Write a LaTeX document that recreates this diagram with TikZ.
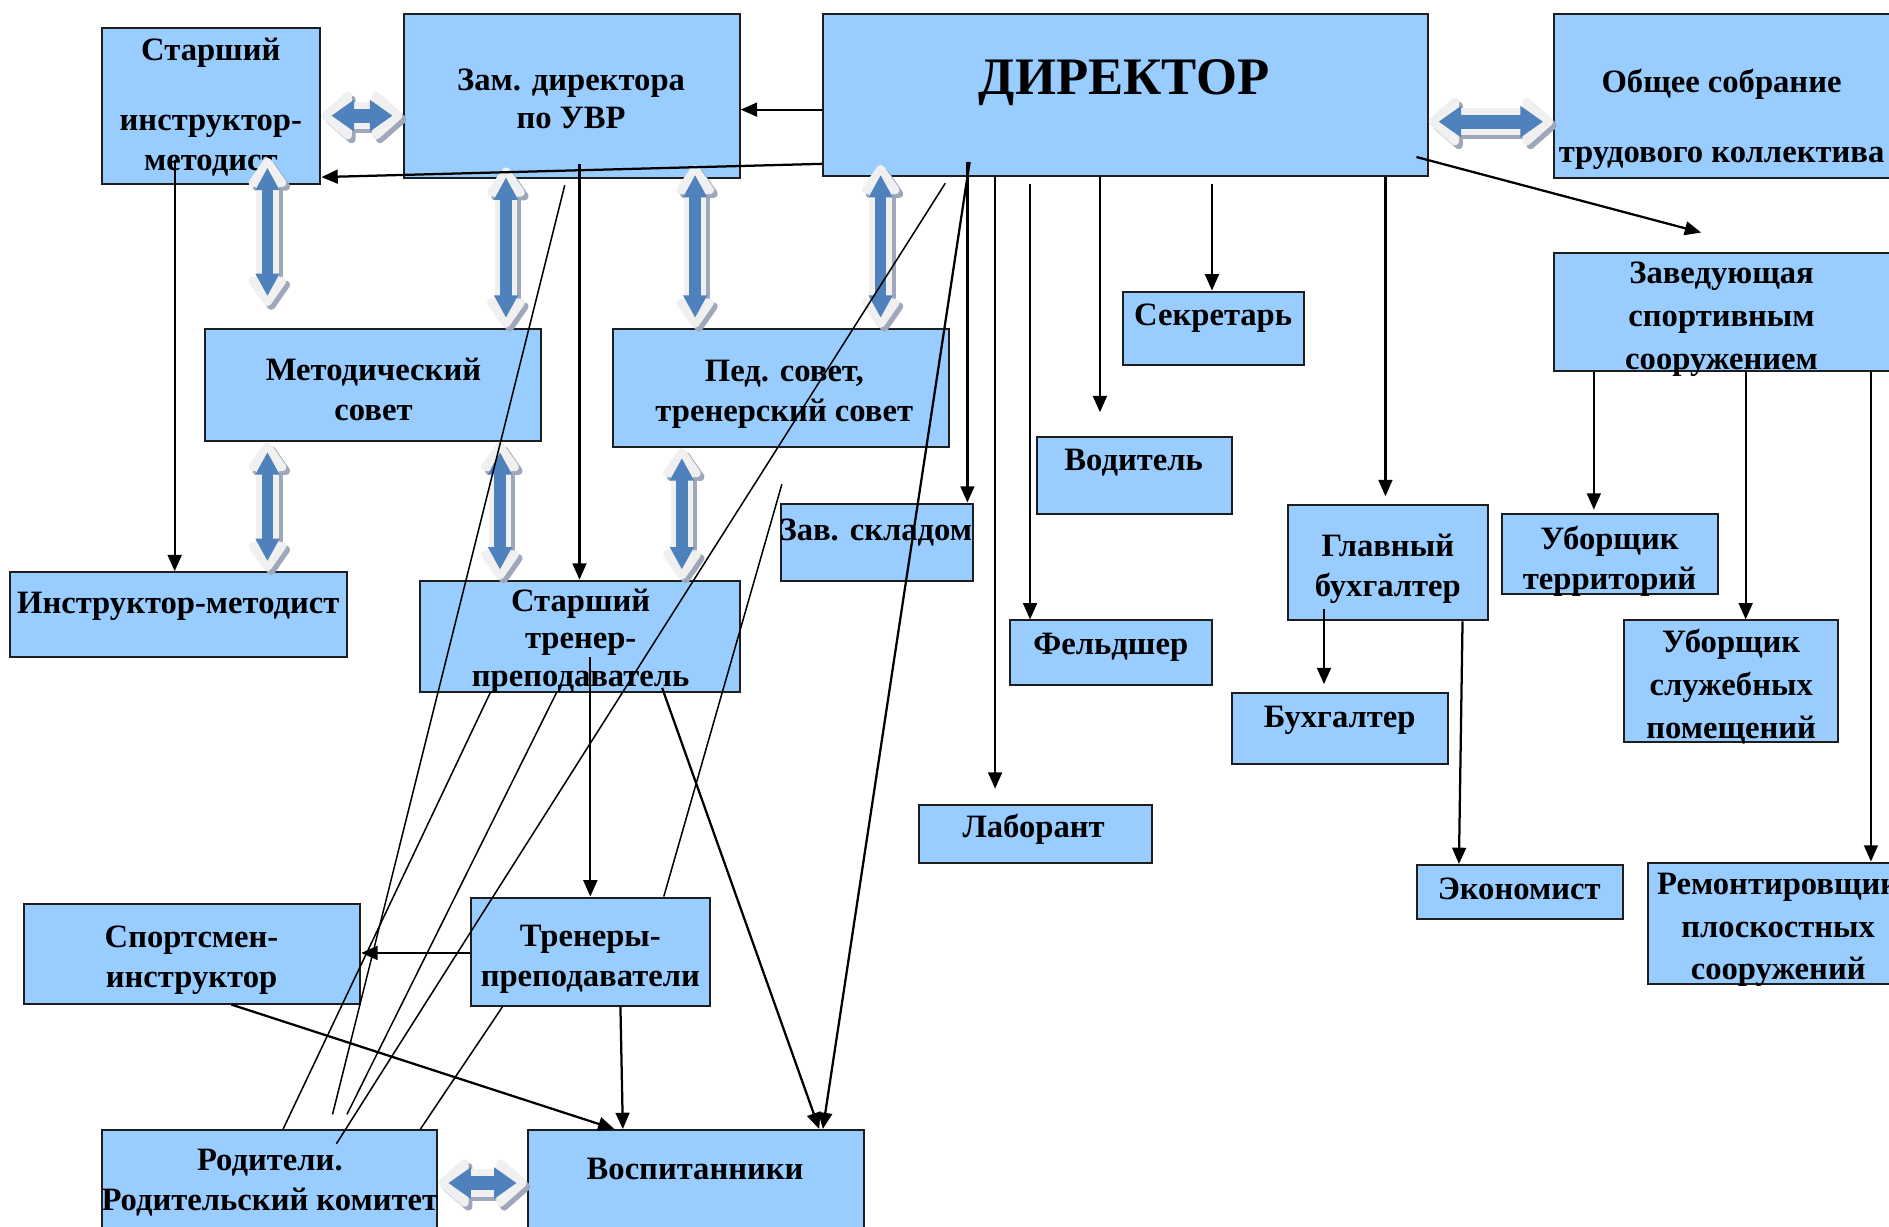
\documentclass[tikz,border=0pt]{standalone}
\usepackage{fontspec}
\setmainfont{Liberation Serif}
\usetikzlibrary{arrows.meta,fit,calc}

\definecolor{boxblue}{RGB}{153,204,255}
\definecolor{arrblue}{RGB}{79,129,189}
\definecolor{arrgrey}{RGB}{240,240,240}
\definecolor{arrshade}{RGB}{158,168,186}

\tikzset{every picture/.style={line width=0.75pt}}
\tikzset{
  box/.style={draw={rgb, 255:red, 30; green, 30; blue, 30 }, fill=boxblue, line width=0.8pt, inner sep=0pt},
  lbl/.style={font=\fontsize{13}{16}\selectfont\bfseries, align=center, inner sep=0pt},
  arr/.style={line width=0.9pt, -{Triangle[length=6.5pt,width=5.5pt]}},
  lnk/.style={line width=0.6pt},
  % vertical block arrows
  vshade/.style={arrshade, line width=9pt, {Triangle[length=13pt,width=17pt,round]}-{Triangle[length=13pt,width=17pt,round]}},
  vouter/.style={arrgrey, line width=9pt, {Triangle[length=13pt,width=17pt,round]}-{Triangle[length=13pt,width=17pt,round]}},
  vinner/.style={arrblue, line width=4.5pt, shorten <=4pt, shorten >=4pt, {Triangle[length=9pt,width=9pt]}-{Triangle[length=9pt,width=9pt]}},
  % horizontal block arrows
  hshade/.style={arrshade, line width=11pt, {Triangle[length=13pt,width=22pt,round]}-{Triangle[length=13pt,width=22pt,round]}},
  houter/.style={arrgrey, line width=11pt, {Triangle[length=13pt,width=22pt,round]}-{Triangle[length=13pt,width=22pt,round]}},
  hinner/.style={arrblue, line width=5.5pt, shorten <=4pt, shorten >=4pt, {Triangle[length=9pt,width=12pt]}-{Triangle[length=9pt,width=12pt]}}
}
% two-headed block arrow: shadow, light body, blue core
\newcommand{\dblarr}[3]{%
  \draw[#1shade, transform canvas={xshift=1.5pt,yshift=-1.5pt}] #2 -- #3;
  \draw[#1outer] #2 -- #3;
  \draw[#1inner] #2 -- #3;}

\begin{document}
\begin{tikzpicture}[x=0.48pt,y=0.48pt,yscale=-1,xscale=1]
\useasboundingbox (0,0) rectangle (1568,1018); %picture is 1568 x 1018

%Shape: Rectangle [id:dir]
\node [box, fit={(683,12) (1185,146)}] (dir) {};
%Shape: Rectangle [id:zam]
\node [box, fit={(335,12) (614,148)}] (zam) {};
%Shape: Rectangle [id:sim]
\node [box, fit={(85,23) (266,153)}] (sim) {};
%Shape: Rectangle [id:obs]
\node [box, fit={(1290,12) (1572,148)}] (obs) {};
%Shape: Rectangle [id:zav]
\node [box, fit={(1290,210) (1572,308)}] (zav) {};
%Shape: Rectangle [id:met]
\node [box, fit={(170,273) (449,366)}] (met) {};
%Shape: Rectangle [id:ped]
\node [box, fit={(509,273) (788,371)}] (ped) {};
%Shape: Rectangle [id:sek]
\node [box, fit={(932,242) (1082,303)}] (sek) {};
%Shape: Rectangle [id:vod]
\node [box, fit={(861,363) (1023,427)}] (vod) {};
%Shape: Rectangle [id:skl]
\node [box, fit={(648,418) (808,482)}] (skl) {};
%Shape: Rectangle [id:inm]
\node [box, fit={(8,475) (288,545)}] (inm) {};
%Shape: Rectangle [id:stt]
\node [box, fit={(349,482) (614,574)}] (stt) {};
%Shape: Rectangle [id:fel]
\node [box, fit={(838,515) (1006,569)}] (fel) {};
%Shape: Rectangle [id:glb]
\node [box, fit={(1069,419) (1235,515)}] (glb) {};
%Shape: Rectangle [id:buh]
\node [box, fit={(1023,575) (1202,634)}] (buh) {};
%Shape: Rectangle [id:ubt]
\node [box, fit={(1247,427) (1426,493)}] (ubt) {};
%Shape: Rectangle [id:ubs]
\node [box, fit={(1348,515) (1526,616)}] (ubs) {};
%Shape: Rectangle [id:lab]
\node [box, fit={(763,668) (956,716)}] (lab) {};
%Shape: Rectangle [id:eko]
\node [box, fit={(1176,718) (1347,763)}] (eko) {};
%Shape: Rectangle [id:rem]
\node [box, fit={(1368,716) (1582,817)}] (rem) {};
%Shape: Rectangle [id:spo]
\node [box, fit={(20,750) (299,833)}] (spo) {};
%Shape: Rectangle [id:tre]
\node [box, fit={(391,745) (589,835)}] (tre) {};
%Shape: Rectangle [id:rod]
\node [box, fit={(85,938) (363,1030)}] (rod) {};
%Shape: Rectangle [id:vos]
\node [box, fit={(438,938) (717,1030)}] (vos) {};

% Text Node
\draw (933,69) node [lbl, font=\fontsize{21}{25}\selectfont\bfseries] (dirt) {ДИРЕКТОР};
% Text Node
\draw (474,82) node [lbl, font=\fontsize{13}{15}\selectfont\bfseries] (zamt) {Зам. директора\\по УВР};
% Text Node
\draw (175,89) node [lbl] (simt) {Старший\\[12pt]инструктор-\\методист};
% Text Node
\draw (1429,99) node [lbl] (obst) {Общее собрание\\[12pt]трудового коллектива};
% Text Node
\draw (1429,265) node [lbl, font=\fontsize{13}{17}\selectfont\bfseries] (zavt) {Заведующая\\спортивным\\сооружением};
% Text Node
\draw (310,323) node [lbl] (mett) {Методический\\совет};
% Text Node
\draw (651,327) node [lbl] (pedt) {Пед. совет,\\тренерский совет};
% Text Node
\draw (1007,264) node [lbl] (sekt) {Секретарь};
% Text Node
\draw (941,384) node [lbl] (vodt) {Водитель};
% Text Node
\draw (727,442) node [lbl] (sklt) {Зав. складом};
% Text Node
\draw (148,503) node [lbl] (inmt) {Инструктор-методист};
% Text Node
\draw (482,532) node [lbl, font=\fontsize{13}{15}\selectfont\bfseries] (sttt) {Старший\\тренер-\\преподаватель};
% Text Node
\draw (922,537) node [lbl] (felt) {Фельдшер};
% Text Node
\draw (1152,472) node [lbl] (glbt) {Главный\\бухгалтер};
% Text Node
\draw (1112,598) node [lbl] (buht) {Бухгалтер};
% Text Node
\draw (1336,466) node [lbl] (ubtt) {Уборщик\\территорий};
% Text Node
\draw (1437,570) node [lbl, font=\fontsize{13}{17}\selectfont\bfseries] (ubst) {Уборщик\\служебных\\помещений};
% Text Node
\draw (858,688) node [lbl] (labt) {Лаборант};
% Text Node
\draw (1261,738) node [lbl] (ekot) {Экономист};
% Text Node
\draw (1476,772) node [lbl, font=\fontsize{13}{17}\selectfont\bfseries] (remt) {Ремонтировщик\\плоскостных\\сооружений};
% Text Node
\draw (159,797) node [lbl] (spot) {Спортсмен-\\инструктор};
% Text Node
\draw (490,796) node [lbl] (tret) {Тренеры-\\преподаватели};
% Text Node
\draw (224,982) node [lbl] (rodt) {Родители.\\Родительский комитет};
% Text Node
\draw (577,970) node [lbl] (vost) {Воспитанники};

%Block Arrows
\dblarr{h}{(sim.east |- 0,96)}{(zam.west |- 0,96)}
\dblarr{h}{(dir.east |- 0,101)}{(obs.west |- 0,101)}
\dblarr{h}{(rod.east |- 0,982)}{(vos.west |- 0,982)}
\dblarr{v}{($(sim.south -| 222,0)+(0,-23)$)}{($(met.north -| 222,0)+(0,-18)$)}
\dblarr{v}{($(zam.south -| 420,0)+(0,-10)$)}{(met.north -| 420,0)}
\dblarr{v}{($(zam.south -| 577,0)+(0,-12)$)}{(ped.north -| 577,0)}
\dblarr{v}{($(dir.south -| 731,0)+(0,-10)$)}{(ped.north -| 731,0)}
\dblarr{v}{(met.south -| 222,0)}{(inm.north -| 222,0)}
\dblarr{v}{(met.south -| 415,0)}{(stt.north -| 415,0)}
\dblarr{v}{(ped.south -| 566,0)}{(stt.north -| 566,0)}

%free ends
\coordinate (zamend) at (276,925);
\coordinate (sttend) at (288,925);
\coordinate (treend) at (649,402);
\coordinate (zavtip) at (1412,193);

%Straight Lines from director
\draw [arr] (dir.west |- 0,91) -- (zam.east |- 0,91);
\draw [arr] (dir.west |- 0,136) -- (sim.east |- 0,147);
\draw [arr, shorten <=-6pt] (dir.south -| 803,0) -- (skl.north -| 803,0);
\draw [arr, shorten <=-6pt] (dir.south -| 803,0) -- (vos.north -| 683,0);
\draw [arr, shorten >=6pt] (dir.south -| 826,0) -- (lab.north -| 826,0);
\draw [arr, shorten <=3pt] (dir.south -| 855,0) -- (fel.north -| 855,0);
\draw [arr, shorten >=9.6pt] (dir.south -| 913,0) -- (vod.north -| 913,0);
\draw [arr, shorten <=3pt] (dir.south -| 1006,0) -- (sek.north -| 1006,0);
\draw [arr, shorten >=3pt] (dir.south -| 1150,0) -- (glb.north -| 1150,0);
\draw [arr, shorten <=-5pt] (dir.east |- 0,133) -- (zavtip);
\draw [lnk, shorten <=3pt, shorten >=-7pt] (dir.south -| 788,0) -- (rod.north -| 287,0);
%Straight Lines from deputy
\draw [arr, shorten <=-6pt] (zam.south -| 481,0) -- (stt.north -| 481,0);
\draw [lnk, shorten <=2.4pt] (zam.south -| 470,0) -- (zamend);
\draw [arr, shorten <=-10pt] (sim.south -| 145,0) -- (inm.north -| 145,0);
%Straight Lines from senior coach
\draw [arr, shorten <=-14pt] (stt.south -| 490,0) -- (tre.north -| 490,0);
\draw [arr, shorten <=-2pt] (stt.south -| 551,0) -- (vos.north -| 680,0);
\draw [lnk] (stt.south -| 407,0) -- (rod.north -| 235,0);
\draw [lnk] (stt.south -| 462,0) -- (sttend);
%Straight Lines from coaches
\draw [arr] (tre.west |- 0,791) -- (spo.east |- 0,791);
\draw [arr] (tre.south -| 515,0) -- (vos.north -| 517,0);
\draw [lnk] (tre.south -| 417,0) -- (rod.north -| 349,0);
\draw [lnk] (tre.north -| 551,0) -- (treend);
\draw [arr] (spo.south -| 192,0) -- (vos.north -| 510,0);
%Straight Lines accounting
\draw [arr, shorten <=-5pt, shorten >=3pt] (glb.south -| 1099,0) -- (buh.north -| 1099,0);
\draw [arr] (glb.south -| 1214,0) -- (eko.north -| 1211,0);
%Straight Lines sports facility
\draw [arr, shorten >=1.5pt] (zav.south -| 1323,0) -- (ubt.north -| 1323,0);
\draw [arr] (zav.south -| 1449,0) -- (ubs.north -| 1449,0);
\draw [arr] (zav.south -| 1553,0) -- (rem.north -| 1553,0);

\end{tikzpicture}
\end{document}
